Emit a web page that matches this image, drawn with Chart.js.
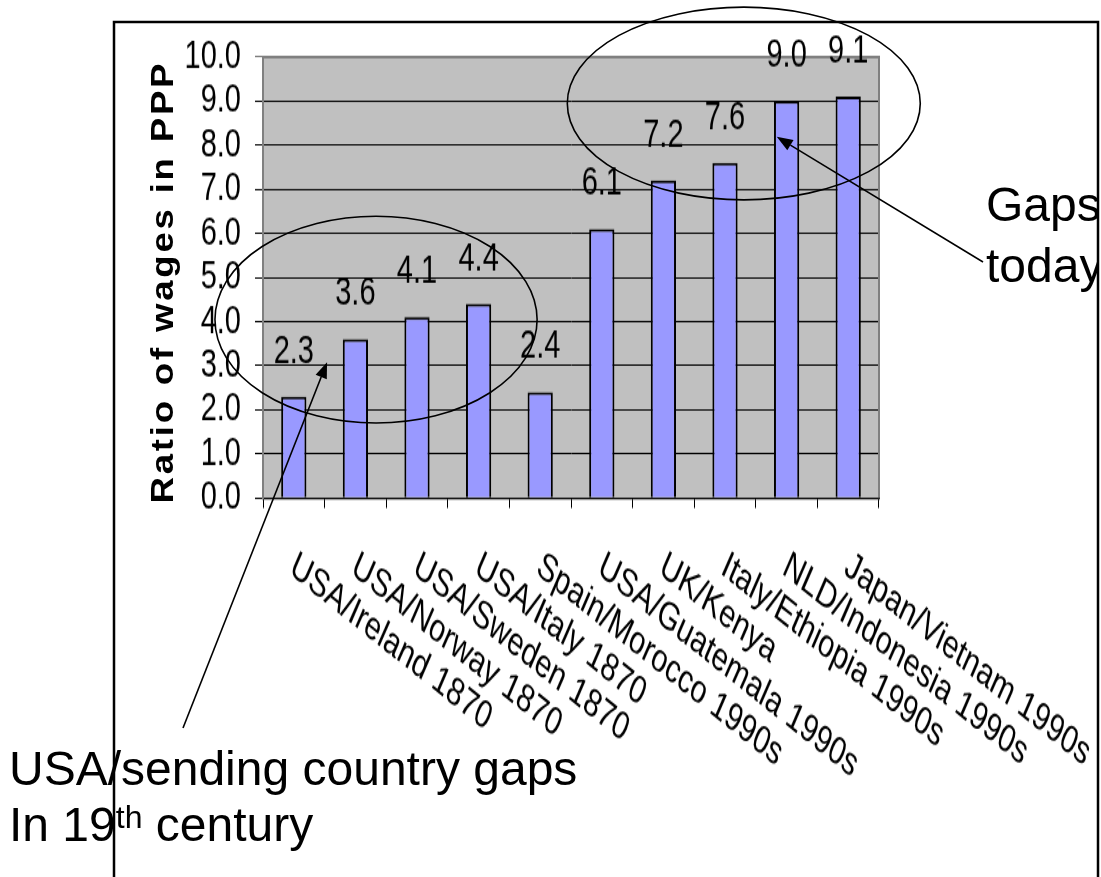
<!DOCTYPE html>
<html>
<head>
<meta charset="utf-8">
<script src="https://cdn.jsdelivr.net/npm/chart.js@4/dist/chart.umd.min.js"></script>
<style>
  html, body { margin: 0; padding: 0; background: #ffffff; }
  #wrap { position: relative; width: 1101px; height: 877px; overflow: hidden; }
  #chart { position: absolute; left: 0; top: 0; }
  #notes { position: absolute; left: 0; top: 0; pointer-events: none; }
</style>
</head>
<body>
<div id="wrap">
  <canvas id="chart" width="1101" height="645" style="width:1101px;height:877px"></canvas>
  <canvas id="notes" width="1101" height="877"></canvas>
</div>
<script>
// Wage ratios between country pairs, measured in purchasing power parity
const categories = [
  'USA/Ireland 1870', 'USA/Norway 1870', 'USA/Sweden 1870', 'USA/Italy 1870',
  'Spain/Morocco 1990s', 'USA/Guatemala 1990s', 'UK/Kenya', 'Italy/Ethiopia 1990s',
  'NLD/Indonesia 1990s', 'Japan/Vietnam 1990s'
];
const wageRatios = [2.3, 3.6, 4.1, 4.4, 2.4, 6.1, 7.2, 7.6, 9.0, 9.1];
const valueLabels = ['2.3', '3.6', '4.1', '4.4', '2.4', '6.1', '7.2', '7.6', '9.0', '9.1'];
const yTickLabels = ['0.0', '1.0', '2.0', '3.0', '4.0', '5.0', '6.0', '7.0', '8.0', '9.0', '10.0'];
const yAxisTitle = 'Ratio of wages in PPP';
const pastNote = ['USA/sending country gaps', 'In 19', 'th', ' century'];
const todayNote = ['Gaps', 'today'];

// The chart canvas is stretched vertically by CSS (645 -> 877 px tall)
const CANVAS_H = 645;
const STRETCH = 877 / CANVAS_H;
const FONT = '"Liberation Sans", Arial, Helvetica, sans-serif';
const LABEL_PX = 29;
const LABEL_ANGLE = 30.5 * Math.PI / 180;

// Grey plot area with a darker top/right edge
const plotBackground = {
  id: 'plotBackground',
  beforeDraw(chart) {
    const { ctx, chartArea: a } = chart;
    ctx.save();
    ctx.fillStyle = '#C0C0C0';
    ctx.fillRect(a.left, a.top, a.right - a.left, a.bottom - a.top);
    ctx.restore();
  },
  beforeDatasetsDraw(chart) {
    const { ctx, chartArea: a } = chart;
    ctx.save();
    ctx.strokeStyle = '#808080';
    ctx.lineWidth = 2;
    ctx.beginPath();
    ctx.moveTo(a.left, a.top);
    ctx.lineTo(a.right, a.top);
    ctx.lineTo(a.right, a.bottom);
    ctx.stroke();
    ctx.restore();
  }
};

// Value labels above each bar
const barValues = {
  id: 'barValues',
  afterDatasetsDraw(chart) {
    const { ctx } = chart;
    const meta = chart.getDatasetMeta(0);
    ctx.save();
    ctx.font = `${LABEL_PX}px ${FONT}`;
    ctx.fillStyle = '#000';
    ctx.textAlign = 'center';
    ctx.textBaseline = 'alphabetic';
    meta.data.forEach((bar, i) => {
      ctx.fillText(valueLabels[i], bar.x, bar.y - 25);
    });
    ctx.restore();
  }
};

// Category names slanting down to the right under each tick
const slantedCategories = {
  id: 'slantedCategories',
  afterDraw(chart) {
    const { ctx, chartArea: a } = chart;
    const xs = chart.scales.x;
    ctx.save();
    ctx.font = `${LABEL_PX}px ${FONT}`;
    ctx.fillStyle = '#000';
    ctx.textAlign = 'left';
    ctx.textBaseline = 'alphabetic';
    chart.data.labels.forEach((label, i) => {
      const cx = xs.getPixelForValue(i);
      ctx.save();
      ctx.translate(cx + 5, a.bottom + 37.2);
      ctx.rotate(LABEL_ANGLE);
      ctx.fillText(label, 0, LABEL_PX * 0.716);
      ctx.restore();
    });
    ctx.restore();
  }
};

// Slide annotations (frame, axis title, circled groups, arrows and captions) on the overlay canvas
function drawNotes(chart) {
  const cv = document.getElementById('notes');
  const ctx = cv.getContext('2d');
  ctx.clearRect(0, 0, cv.width, cv.height);
  const xs = chart.scales.x, ys = chart.scales.y;
  const px = (i) => xs.getPixelForValue(i);
  const py = (v) => ys.getPixelForValue(v) * STRETCH;

  ctx.strokeStyle = '#000';
  ctx.fillStyle = '#000';

  // letter-spaced vertical axis title, reading bottom to top
  ctx.save();
  ctx.font = `bold 30.5px ${FONT}`;
  ctx.textBaseline = 'alphabetic';
  ctx.textAlign = 'left';
  const chars = Array.from(yAxisTitle);
  const glyphStretch = 1.2;
  const natural = chars.reduce((s, ch) => s + ctx.measureText(ch).width, 0) * glyphStretch;
  const titleLen = 440;
  const gap = (titleLen - natural) / (chars.length - 1);
  const titleBottom = (py(0) + py(10)) / 2 + titleLen / 2 + 6;
  ctx.translate(173, titleBottom);
  ctx.rotate(-Math.PI / 2);
  let tx = 0;
  chars.forEach((ch) => {
    ctx.save();
    ctx.translate(tx, 0);
    ctx.scale(glyphStretch, 1);
    ctx.fillText(ch, 0, 0);
    ctx.restore();
    tx += ctx.measureText(ch).width * glyphStretch + gap;
  });
  ctx.restore();

  // slide frame
  ctx.lineWidth = 2.5;
  ctx.strokeRect(114, 22, 984, 900);

  // ellipses around the 19th-century group and the present-day group
  const ellipse = (i0, i1, vTop, vBottom) => {
    const l = px(i0), r = px(i1), t = py(vTop), b = py(vBottom);
    ctx.beginPath();
    ctx.ellipse((l + r) / 2, (t + b) / 2, (r - l) / 2, (b - t) / 2, 0, 0, Math.PI * 2);
    ctx.lineWidth = 1.6;
    ctx.stroke();
  };
  ellipse(-1.28, 3.95, 6.39, 1.70);
  ellipse(4.44, 10.17, 11.13, 6.76);

  // arrows from the captions into the chart
  const arrow = (x0, y0, x1, y1) => {
    const ang = Math.atan2(y1 - y0, x1 - x0);
    const len = 16, half = 6;
    const bx = x1 - len * Math.cos(ang), by = y1 - len * Math.sin(ang);
    ctx.beginPath();
    ctx.moveTo(x0, y0);
    ctx.lineTo(bx, by);
    ctx.lineWidth = 1.6;
    ctx.stroke();
    ctx.beginPath();
    ctx.moveTo(x1, y1);
    ctx.lineTo(bx + half * Math.sin(ang), by - half * Math.cos(ang));
    ctx.lineTo(bx - half * Math.sin(ang), by + half * Math.cos(ang));
    ctx.closePath();
    ctx.fill();
  };
  arrow(183, 728, px(0.54), py(3.08));
  arrow(983, 262, px(7.84), py(8.19));

  // captions
  ctx.textAlign = 'left';
  ctx.textBaseline = 'alphabetic';
  ctx.font = `48px ${FONT}`;
  ctx.fillText(pastNote[0], 9, 785);
  ctx.fillText(pastNote[1], 9, 841);
  let x = 9 + ctx.measureText(pastNote[1]).width;
  ctx.font = `32px ${FONT}`;
  ctx.fillText(pastNote[2], x, 828);
  x += ctx.measureText(pastNote[2]).width;
  ctx.font = `48px ${FONT}`;
  ctx.fillText(pastNote[3], x, 841);

  // right-hand caption is cut off by the slide frame
  ctx.save();
  ctx.beginPath();
  ctx.rect(0, 0, 1097, 877);
  ctx.clip();
  ctx.font = `48px ${FONT}`;
  ctx.fillText(todayNote[0], 986, 221);
  ctx.fillText(todayNote[1], 986, 282);
  ctx.restore();
}

const notesOverlay = {
  id: 'notesOverlay',
  afterRender(chart) { drawNotes(chart); }
};

new Chart(document.getElementById('chart'), {
  type: 'bar',
  data: {
    labels: categories,
    datasets: [{
      data: wageRatios,
      backgroundColor: '#9999FF',
      borderColor: '#000000',
      borderWidth: 2,
      barPercentage: 0.41,
      categoryPercentage: 1.0
    }]
  },
  options: {
    responsive: false,
    animation: false,
    devicePixelRatio: 1,
    layout: { padding: { top: 57 / STRETCH, right: 222, bottom: 0, left: 0 } },
    plugins: { legend: { display: false }, tooltip: { enabled: false } },
    scales: {
      x: {
        afterFit(scale) { scale.height = CANVAS_H - 498 / STRETCH; },
        ticks: { display: false },
        grid: {
          offset: true,
          drawOnChartArea: false,
          drawTicks: true,
          tickLength: 10 / STRETCH,
          color: '#000000',
          lineWidth: 1
        },
        border: { display: true, color: '#000000', width: 1.2 }
      },
      y: {
        min: 0,
        max: 10,
        afterFit(scale) { scale.width = 263; },
        ticks: {
          stepSize: 1,
          autoSkip: false,
          padding: 14,
          color: '#000000',
          font: { family: FONT, size: LABEL_PX },
          callback: (v, i) => yTickLabels[i]
        },
        grid: {
          color: (c) => (c.tick && c.tick.value === 10 ? '#808080' : '#000000'),
          lineWidth: 1,
          tickLength: 8
        },
        border: { display: true, color: '#808080', width: 2 }
      }
    }
  },
  plugins: [plotBackground, barValues, slantedCategories, notesOverlay]
});
</script>
</body>
</html>
